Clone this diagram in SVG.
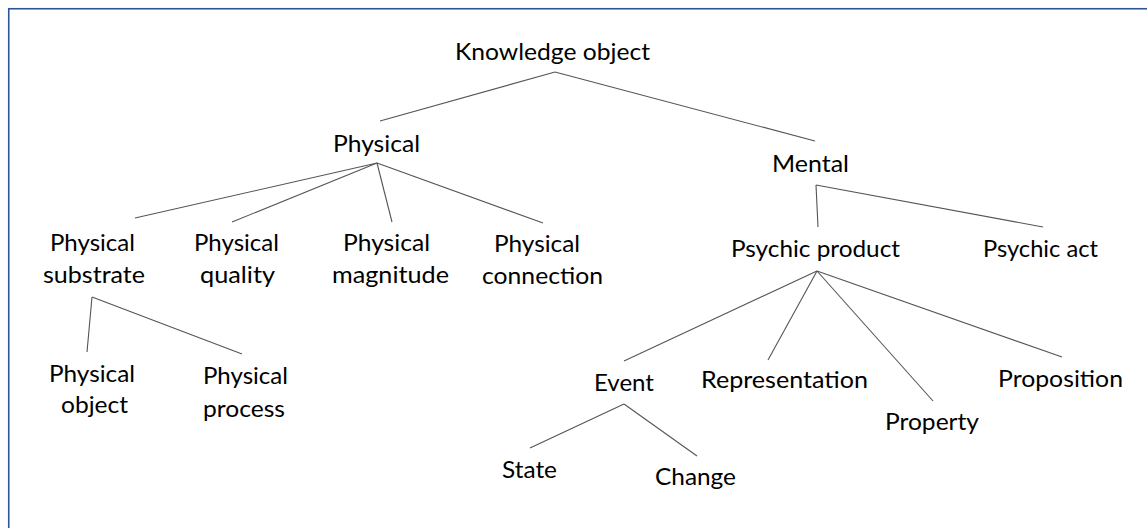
<svg xmlns="http://www.w3.org/2000/svg" width="1147" height="528" viewBox="0 0 1147 528">
<style>
.t{font-family:Lato,"Open Sans","Liberation Sans",sans-serif;font-size:24px;fill:#000;text-anchor:middle}
.c line{stroke:#555;stroke-width:1.1}
</style>
<rect x="0" y="0" width="1147" height="528" fill="#fff"/>
<rect x="8.75" y="8.75" width="1200" height="600" fill="none" stroke="#2F5597" stroke-width="1.6"/>
<g class="c" id="connectors">
<line x1="555" y1="72" x2="380" y2="121"/>
<line x1="555" y1="72" x2="815" y2="141"/>
<line x1="377" y1="163" x2="135" y2="218"/>
<line x1="377" y1="163" x2="232" y2="222"/>
<line x1="377" y1="163" x2="392" y2="222"/>
<line x1="377" y1="163" x2="543" y2="223"/>
<line x1="92" y1="297" x2="87" y2="352"/>
<line x1="92" y1="297" x2="242" y2="354"/>
<line x1="816" y1="185" x2="818" y2="227"/>
<line x1="816" y1="185" x2="1043" y2="227"/>
<line x1="817" y1="271" x2="624" y2="361"/>
<line x1="817" y1="271" x2="768" y2="360"/>
<line x1="817" y1="271" x2="933" y2="401"/>
<line x1="817" y1="271" x2="1062" y2="357"/>
<line x1="624" y1="404" x2="530" y2="448"/>
<line x1="624" y1="404" x2="697" y2="456"/>
</g>
<g id="knowledge-object"><text class="t" x="552.5" y="60" textLength="195" lengthAdjust="spacingAndGlyphs">Knowledge object</text></g>
<g id="physical"><text class="t" x="376.5" y="152" textLength="87" lengthAdjust="spacingAndGlyphs">Physical</text></g>
<g id="mental"><text class="t" x="810.5" y="172" textLength="77" lengthAdjust="spacingAndGlyphs">Mental</text></g>
<g id="physical-substrate"><text class="t" x="92.5" y="251" textLength="85" lengthAdjust="spacingAndGlyphs">Physical</text><text class="t" x="94" y="283" textLength="102" lengthAdjust="spacingAndGlyphs">substrate</text></g>
<g id="physical-quality"><text class="t" x="236.5" y="251" textLength="85" lengthAdjust="spacingAndGlyphs">Physical</text><text class="t" x="237.5" y="283" textLength="75" lengthAdjust="spacingAndGlyphs">quality</text></g>
<g id="physical-magnitude"><text class="t" x="386.5" y="251" textLength="87" lengthAdjust="spacingAndGlyphs">Physical</text><text class="t" x="390.5" y="283" textLength="117" lengthAdjust="spacingAndGlyphs">magnitude</text></g>
<g id="physical-connection"><text class="t" x="537" y="252" textLength="86" lengthAdjust="spacingAndGlyphs">Physical</text><text class="t" x="542.5" y="284" textLength="121" lengthAdjust="spacingAndGlyphs">connection</text></g>
<g id="physical-object"><text class="t" x="92" y="382" textLength="86" lengthAdjust="spacingAndGlyphs">Physical</text><text class="t" x="94.5" y="413" textLength="67" lengthAdjust="spacingAndGlyphs">object</text></g>
<g id="physical-process"><text class="t" x="245.5" y="384" textLength="85" lengthAdjust="spacingAndGlyphs">Physical</text><text class="t" x="244" y="417" textLength="82" lengthAdjust="spacingAndGlyphs">process</text></g>
<g id="psychic-product"><text class="t" x="815.5" y="257" textLength="169" lengthAdjust="spacingAndGlyphs">Psychic product</text></g>
<g id="psychic-act"><text class="t" x="1040.5" y="257" textLength="115" lengthAdjust="spacingAndGlyphs">Psychic act</text></g>
<g id="event"><text class="t" x="624" y="391" textLength="60" lengthAdjust="spacingAndGlyphs">Event</text></g>
<g id="representation"><text class="t" x="784.5" y="388" textLength="167" lengthAdjust="spacingAndGlyphs">Representation</text></g>
<g id="property"><text class="t" x="932" y="430" textLength="94" lengthAdjust="spacingAndGlyphs">Property</text></g>
<g id="proposition"><text class="t" x="1060.5" y="387" textLength="125" lengthAdjust="spacingAndGlyphs">Proposition</text></g>
<g id="state"><text class="t" x="529.5" y="478" textLength="55" lengthAdjust="spacingAndGlyphs">State</text></g>
<g id="change"><text class="t" x="695.5" y="485" textLength="81" lengthAdjust="spacingAndGlyphs">Change</text></g>
</svg>
